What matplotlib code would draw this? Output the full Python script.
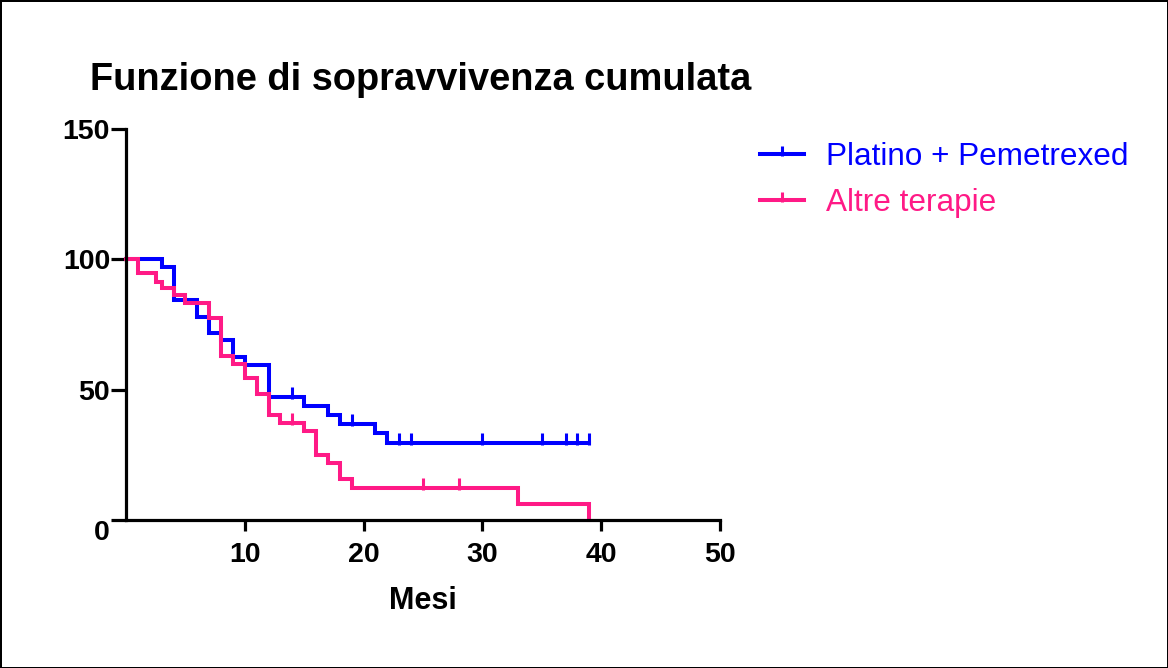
import matplotlib
matplotlib.use("Agg")
import matplotlib.pyplot as plt
import matplotlib.transforms as mtransforms
import numpy as np
from matplotlib.lines import Line2D
from matplotlib.path import Path

# Kaplan-Meier: tempi (mesi) e sopravvivenza (%)
platino_t = [0, 3, 4, 6, 7, 8, 9, 10, 12, 15, 17, 18, 21, 22, 39]
platino_s = [100, 97, 84.4, 78, 71.9, 68.9, 62.6, 59.5, 47.1, 43.7, 40.3, 36.9, 33.3, 29.6, 29.6]
platino_cens = [14, 19, 23, 24, 30, 35, 37, 38, 39]

altre_t = [0, 1, 2.5, 3, 4, 5, 7, 8, 9, 10, 11, 12, 13, 15, 16, 17, 18, 19, 33, 39]
altre_s = [100, 94.6, 91.4, 88.9, 86.2, 83.4, 77.4, 62.8, 60.0, 54.6, 48.4, 40.2, 37.2, 34.2,
           24.8, 21.8, 15.6, 12.4, 6.2, 0]
altre_cens = [14, 25, 28]

x_ticks = [10, 20, 30, 40, 50]
y_ticks = [0, 50, 100, 150]

BLUE = "#0000FF"
PINK = "#FF1A86"
FONT = ["Liberation Sans", "DejaVu Sans"]

plt.rcParams["font.family"] = FONT

# marker di censura: trattino verticale che sale sopra la curva
CENS = Path([(0, -0.2), (0, 1.0)], [Path.MOVETO, Path.LINETO])
LW = 2.9


def step_value(ts, ss, t):
    i = np.searchsorted(ts, t, side="right") - 1
    return ss[i]


fig = plt.figure(figsize=(11.68, 6.68), dpi=100, edgecolor="black", linewidth=2)
ax = fig.add_axes([126 / 1168, 1 - 520 / 668, (720 - 126) / 1168, (520 - 129) / 668])

for ts, ss, cens, col in [(platino_t, platino_s, platino_cens, BLUE),
                          (altre_t, altre_s, altre_cens, PINK)]:
    ax.step(ts, ss, where="post", color=col, lw=LW, solid_joinstyle="miter", clip_on=False)
    cy = [step_value(ts, ss, c) for c in cens]
    ax.plot(cens, cy, ls="none", marker=CENS, markersize=14, mew=2.2, color=col, clip_on=False)

ax.set_xlim(0, 50)
ax.set_ylim(0, 150)
ax.set_xticks(x_ticks)
ax.set_yticks(y_ticks)

for side in ("top", "right"):
    ax.spines[side].set_visible(False)
for side in ("left", "bottom"):
    ax.spines[side].set_linewidth(2.3)

ax.tick_params(axis="both", width=2.3, labelsize=20.5, colors="black")
ax.tick_params(axis="x", length=8, pad=7.5)
ax.tick_params(axis="y", length=11, pad=0.5)
for lab in ax.get_xticklabels() + ax.get_yticklabels():
    lab.set_fontweight("bold")
# lo "0" dell'asse y sta un po' piu in basso
lab0 = ax.get_yticklabels()[0]
lab0.set_transform(lab0.get_transform() + mtransforms.ScaledTranslation(0, -10 / 100, fig.dpi_scale_trans))

ax.set_xlabel("Mesi", fontsize=22, fontweight="bold", labelpad=13)

fig.text(90 / 1168, 1 - 80 / 668, "Funzione di sopravvivenza cumulata",
         fontsize=27.4, fontweight="bold", ha="left", va="center")

handles = [Line2D([], [], color=BLUE, lw=LW, marker=CENS, markersize=12, mew=2.2),
           Line2D([], [], color=PINK, lw=LW, marker=CENS, markersize=12, mew=2.2)]
leg = fig.legend(handles, ["Platino + Pemetrexed", "Altre terapie"],
                 loc="upper left", bbox_to_anchor=(760 / 1168, 1 - 142 / 668),
                 frameon=False, fontsize=22.7, handlelength=1.4, handletextpad=0.7,
                 borderpad=0, borderaxespad=0, labelspacing=0.5, numpoints=1)
for txt, col in zip(leg.get_texts(), [BLUE, PINK]):
    txt.set_color(col)

fig.savefig("out.png", dpi=100)
plt.close(fig)
